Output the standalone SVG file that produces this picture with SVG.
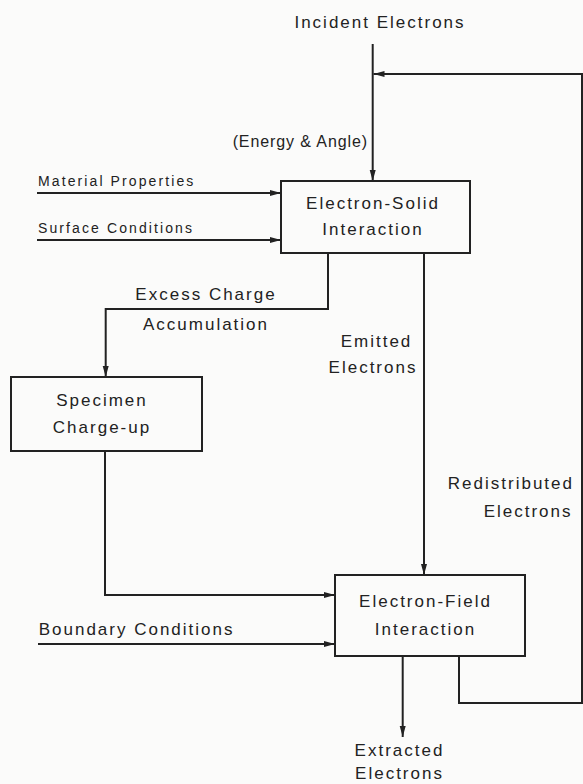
<svg xmlns="http://www.w3.org/2000/svg" width="583" height="784" viewBox="0 0 583 784">
<style>
.bg{fill:#fbfbfa}
.box{fill:none;stroke:#222;stroke-width:2}
.ln{fill:none;stroke:#222;stroke-width:2}
text{font-family:"Liberation Sans",Arial,sans-serif;fill:#222;font-size:17px;letter-spacing:2px}
.sm{font-size:14px;letter-spacing:2.1px}
.md{font-size:16px;letter-spacing:0.9px}
.c{text-anchor:middle}
.e{text-anchor:end}
</style>
<defs>
<marker id="arr" markerUnits="userSpaceOnUse" markerWidth="12" markerHeight="8" refX="11" refY="3.5" orient="auto">
<path d="M0,0.5 L11,3.5 L0,6.5 z" fill="#222"/>
</marker>
</defs>
<rect class="bg" x="0" y="0" width="583" height="784"/>
<g id="connectors">
<path class="ln" d="M372.7,44 V181" marker-end="url(#arr)"/>
<path class="ln" d="M459,656 V703 H582 V74 H373.5" marker-end="url(#arr)"/>
<path class="ln" d="M37,193 H281" marker-end="url(#arr)"/>
<path class="ln" d="M37,240 H281" marker-end="url(#arr)"/>
<path class="ln" d="M328,253 V309 H105.7 V377" marker-end="url(#arr)"/>
<path class="ln" d="M424,253 V575" marker-end="url(#arr)"/>
<path class="ln" d="M105,451 V595 H335" marker-end="url(#arr)"/>
<path class="ln" d="M38,644 H335" marker-end="url(#arr)"/>
<path class="ln" d="M402.7,656 V737" marker-end="url(#arr)"/>
</g>
<g id="labels">
<text class="c" x="380" y="28">Incident Electrons</text>
<text class="md e" x="368" y="147">(Energy &amp; Angle)</text>
<text class="sm" x="38" y="186">Material Properties</text>
<text class="sm" x="38" y="233">Surface Conditions</text>
<text class="c" x="206" y="300">Excess Charge</text>
<text class="c" x="206" y="330">Accumulation</text>
<text class="c" x="376.5" y="347">Emitted</text>
<text class="c" x="373" y="373">Electrons</text>
<text class="e" x="574" y="489">Redistributed</text>
<text class="e" x="572.5" y="517">Electrons</text>
<text x="38.7" y="635">Boundary Conditions</text>
<text class="c" x="399.5" y="756">Extracted</text>
<text class="c" x="399.5" y="779">Electrons</text>
</g>
<g id="electron-solid">
<rect class="box" x="281" y="181" width="189" height="72"/>
<text class="c" x="373" y="209">Electron-Solid</text>
<text class="c" x="373" y="235">Interaction</text>
</g>
<g id="specimen">
<rect class="box" x="11" y="377" width="191" height="74"/>
<text class="c" x="102" y="405.5">Specimen</text>
<text class="c" x="102" y="433">Charge-up</text>
</g>
<g id="electron-field">
<rect class="box" x="335" y="575" width="190" height="81"/>
<text class="c" x="425.5" y="607">Electron-Field</text>
<text class="c" x="425.5" y="635">Interaction</text>
</g>
</svg>
